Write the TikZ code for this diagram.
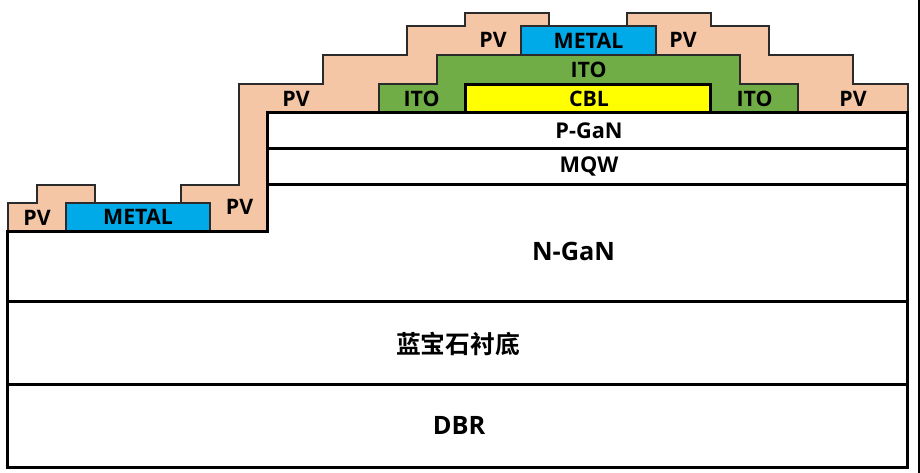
\documentclass[tikz,border=0pt]{standalone}
\usepackage{fontspec}
\setmainfont{Open Sans}
\newfontfamily\cjkfont{Noto Sans CJK SC Bold}
\definecolor{pvc}{HTML}{F4C6A6}
\definecolor{metalc}{HTML}{00A9E8}
\definecolor{itoc}{HTML}{70AD47}
\definecolor{cblc}{HTML}{FFFF00}
\definecolor{edgec}{HTML}{2B2B2B}
\tikzset{
  pvshape/.style={fill=pvc,draw=edgec,line width=1.1pt,line join=miter},
  metalshape/.style={fill=metalc,draw=edgec,line width=1.1pt},
  itoshape/.style={fill=itoc,draw=edgec,line width=0.8pt},
  cblshape/.style={fill=cblc,draw=black,line width=2.25pt},
  layerline/.style={draw=black,line width=2.25pt,line join=miter},
  smalllabel/.style={inner sep=0pt,font=\fontsize{16}{18}\selectfont\bfseries,text=black},
  midlabel/.style={inner sep=0pt,font=\fontsize{16.3}{18}\selectfont\bfseries,text=black},
  biglabel/.style={inner sep=0pt,font=\fontsize{19}{22}\selectfont\bfseries,text=black},
  cjklabel/.style={inner sep=0pt,font=\fontsize{18.6}{22}\selectfont\cjkfont,text=black},
}
\begin{document}
\begin{tikzpicture}[x=0.75pt,y=-0.75pt]
\useasboundingbox (0,0) rectangle (920,473);
\fill[white] (0,0) rectangle (920,473);
\fill[black] (917.5,0) rectangle (920,473);
% PV shapes
\draw[pvshape] (8,231) -- (8,203) -- (37,203) -- (37,185) -- (95,185) -- (95,203) -- (66,203) -- (66,231) -- cycle;
\draw[pvshape] (210,231) -- (210,203) -- (181,203) -- (181,185) -- (239,185) -- (239,84) -- (323,84) -- (323,55) -- (407,55) -- (407,26) -- (465,26) -- (465,13) -- (549,13) -- (549,26) -- (521,26) -- (521,55) -- (437,55) -- (437,84) -- (379,84) -- (379,112) -- (268,112) -- (268,231) -- cycle;
\draw[pvshape] (627,26) -- (627,13) -- (711,13) -- (711,26) -- (769,26) -- (769,55) -- (853,55) -- (853,84) -- (908,84) -- (908,112) -- (798,112) -- (798,84) -- (740,84) -- (740,55) -- (656,55) -- (656,26) -- cycle;
% ITO
\draw[itoshape] (379,112) -- (379,84) -- (437,84) -- (437,55) -- (740,55) -- (740,84) -- (798,84) -- (798,112) -- cycle;
% METAL
\draw[metalshape] (66,203) rectangle (210,231);
\draw[metalshape] (521,26) rectangle (656,55);
% CBL
\draw[cblshape] (465.5,112.5) rectangle (710.5,84.5);
% semiconductor layers
\draw[layerline] (7.5,231.5) -- (267.5,231.5) -- (267.5,112.5) -- (907.5,112.5) -- (907.5,467.5) -- (7.5,467.5) -- cycle;
\draw[layerline] (267.5,148.5) -- (907.5,148.5);
\draw[layerline] (267.5,184.5) -- (907.5,184.5);
\draw[layerline] (7.5,301.5) -- (907.5,301.5);
\draw[layerline] (7.5,384.5) -- (907.5,384.5);
% labels
\node[smalllabel] (pva) at (37,218) {PV};
\node[smalllabel] (metala) at (138,217) {METAL};
\node[smalllabel] (pvb) at (239.5,207) {PV};
\node[smalllabel] (pvc) at (296,99) {PV};
\node[smalllabel] (itoa) at (421.5,99) {ITO};
\node[smalllabel] (pvd) at (493,40) {PV};
\node[smalllabel] (metalb) at (588.5,41) {METAL};
\node[smalllabel] (pve) at (683,40) {PV};
\node[smalllabel] (itob) at (588.5,70) {ITO};
\node[smalllabel] (cbl) at (589,99) {CBL};
\node[smalllabel] (itoc) at (754.5,99) {ITO};
\node[smalllabel] (pvf) at (853,99) {PV};
\node[midlabel] (pgan) at (589,131) {P-GaN};
\node[midlabel] (mqw) at (589,166) {MQW};
\node[biglabel] (ngan) at (573.5,251.5) {N-GaN};
\node[cjklabel] (sub) at (458,344) {蓝宝石衬底};
\node[biglabel] (dbr) at (459,425) {DBR};
\end{tikzpicture}
\end{document}
